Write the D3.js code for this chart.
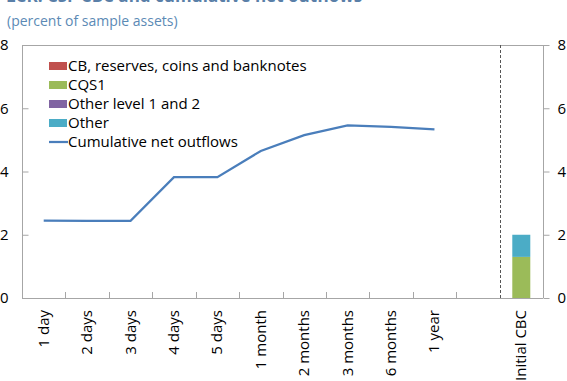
<!DOCTYPE html>
<html><head><meta charset="utf-8">
<script src="https://cdn.jsdelivr.net/npm/d3@7"></script>
<style>body{margin:0;background:#fff;} svg{display:block;font-family:"Open Sans",sans-serif;}</style>
</head><body><svg id="c" width="567" height="381"></svg>
<script>
const categories = ["1 day","2 days","3 days","4 days","5 days","1 month","2 months","3 months","6 months","1 year","","Initial CBC"];
const lineCats = ["1 day","2 days","3 days","4 days","5 days","1 month","2 months","3 months","6 months","1 year"];
const cumulativeNetOutflows = [2.45,2.44,2.44,3.82,3.82,4.65,5.15,5.46,5.41,5.33];
const barCats = ["Initial CBC"];
const cbReserves = [0];
const cqs1 = [1.3];
const otherL12 = [0];
const other = [0.7];
const seriesNames = ["CB, reserves, coins and banknotes","CQS1","Other level 1 and 2","Other"];
const seriesColors = ["#c0504d","#9bbb59","#8064a2","#4bacc6"];
const lineName = "Cumulative net outflows";
const yTicks = [0,2,4,6,8];
const title = "LCR: CSF CBC and cumulative net outflows";
const subtitle = "(percent of sample assets)";

const svg = d3.select("#c");
const L=22,R=543,T=45,B=298;
const x = d3.scaleBand().domain(categories).range([L,R]).padding(0);
const y = d3.scaleLinear().domain([0,8]).range([B,T]);
const grey="#a6a6a6";

svg.append("text").attr("x",6).attr("y",1.5).attr("font-weight","bold").attr("font-size",17).attr("fill","#5a7fa8").text(title);
svg.append("text").attr("x",7).attr("y",26).attr("font-size",14).attr("fill","#5b8ab5").text(subtitle);

// frame top
svg.append("line").attr("x1",L).attr("x2",R).attr("y1",T+0.5).attr("y2",T+0.5).attr("stroke",grey);

// left axis
const gl = svg.append("g").attr("transform",`translate(${L+0.5},0)`)
 .call(d3.axisLeft(y).tickValues(yTicks).tickSize(-6).tickPadding(14).tickFormat(d3.format("d")));
gl.selectAll("line,path").attr("stroke",grey);
gl.select(".domain").attr("d",`M0,${T}V${B}`);
gl.selectAll("text").attr("font-size",15).attr("fill","#000").attr("font-family","Open Sans");

// right axis
const gr = svg.append("g").attr("transform",`translate(${R+0.5},0)`)
 .call(d3.axisRight(y).tickValues(yTicks).tickSize(6).tickPadding(8).tickFormat(d3.format("d")));
gr.selectAll("line,path").attr("stroke",grey);
gr.select(".domain").attr("d",`M0,${T}V${B}`);
gr.selectAll("text").attr("font-size",15).attr("fill","#000").attr("font-family","Open Sans");

// bottom axis
svg.append("line").attr("x1",L).attr("x2",R).attr("y1",B+0.5).attr("y2",B+0.5).attr("stroke",grey);
const bounds = categories.slice(1).map((c,i)=>x(c)).filter((v,i)=>i!==categories.length-2);
svg.append("g").selectAll("line").data(bounds).join("line")
 .attr("x1",d=>Math.round(d)+0.5).attr("x2",d=>Math.round(d)+0.5).attr("y1",B).attr("y2",B-6).attr("stroke",grey);
svg.append("g").selectAll("text").data(categories.filter(c=>c!=="")).join("text")
 .attr("transform",d=>`translate(${x(d)+x.bandwidth()/2+5},310) rotate(-90)`)
 .attr("text-anchor","end").attr("font-size",15).attr("fill","#000").text(d=>d);

// dashed separator
const sep = x("Initial CBC");
svg.append("line").attr("x1",Math.round(sep)+0.5).attr("x2",Math.round(sep)+0.5).attr("y1",T).attr("y2",B)
 .attr("stroke","#555").attr("stroke-dasharray","3,2");

// stacked bars
const rows = barCats.map((c,i)=>({cat:c,s0:cbReserves[i],s1:cqs1[i],s2:otherL12[i],s3:other[i]}));
const stack = d3.stack().keys(["s1","s0","s2","s3"]);
const layers = stack(rows);
const colorFor = {s0:seriesColors[0],s1:seriesColors[1],s2:seriesColors[2],s3:seriesColors[3]};
const bw = 18;
svg.append("g").selectAll("g").data(layers).join("g").attr("fill",d=>colorFor[d.key])
 .selectAll("rect").data(d=>d).join("rect")
 .attr("x",d=>x(d.data.cat)+x.bandwidth()/2-bw/2).attr("width",bw)
 .attr("y",d=>y(d[1])).attr("height",d=>y(d[0])-y(d[1]));

// line
const pts = lineCats.map((c,i)=>[x(c)+x.bandwidth()/2, y(cumulativeNetOutflows[i])]);
svg.append("path").attr("d",d3.line()(pts)).attr("fill","none").attr("stroke","#4a7ebb").attr("stroke-width",2.25);

// legend
const lg = svg.append("g");
const items = seriesNames.map((n,i)=>({n,c:seriesColors[i],t:"rect"})).concat([{n:lineName,c:"#4a7ebb",t:"line"}]);
items.forEach((it,i)=>{
  const yy = 65 + i*19;
  if(it.t==="rect") lg.append("rect").attr("x",49).attr("y",yy-3).attr("width",18).attr("height",8).attr("fill",it.c);
  else lg.append("line").attr("x1",49).attr("x2",68).attr("y1",yy+1).attr("y2",yy+1).attr("stroke",it.c).attr("stroke-width",2.25);
  lg.append("text").attr("x",68).attr("y",yy+6).attr("font-size",15).attr("fill","#000").text(it.n);
});
</script></body></html>
